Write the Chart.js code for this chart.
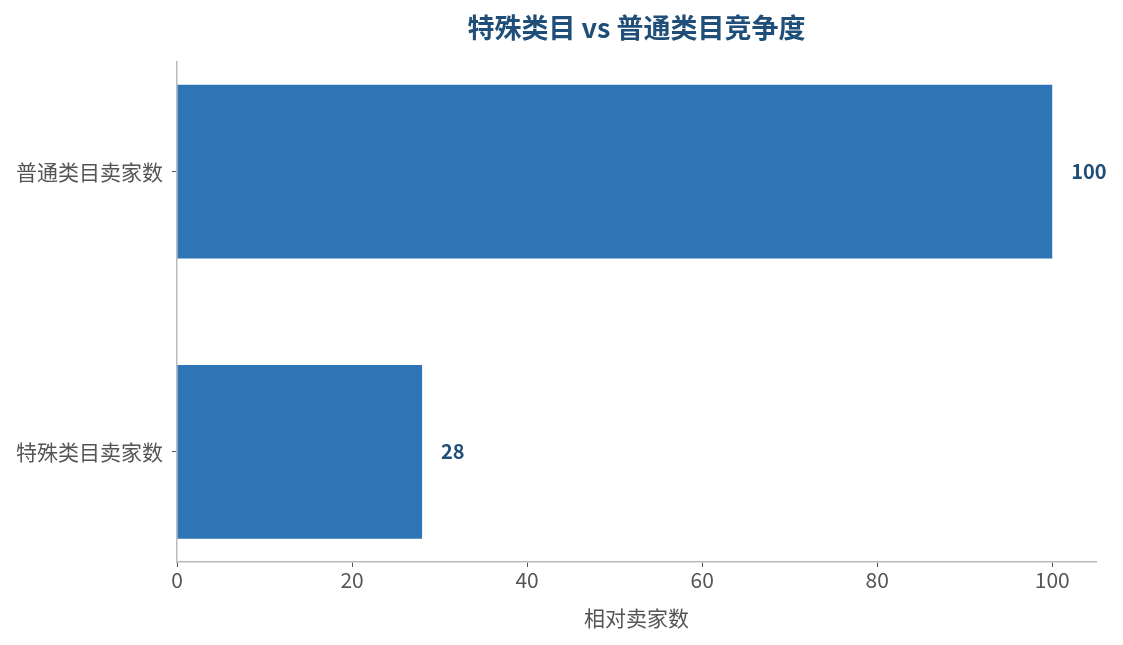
<!DOCTYPE html>
<html><head><meta charset="utf-8">
<script src="https://cdn.jsdelivr.net/npm/chart.js@4.4.1/dist/chart.umd.min.js"></script>
<style>html,body{margin:0;padding:0;background:#fff}#wrap{width:1123px;height:645px}</style>
</head><body><div id="wrap"><canvas id="c" width="1123" height="645"></canvas></div>
<script>
const categories = ['普通类目卖家数', '特殊类目卖家数'];
const values = [100, 28];
const xTicks = [0, 20, 40, 60, 80, 100];
const chartTitle = '特殊类目 vs 普通类目竞争度';
const xAxisTitle = '相对卖家数';

const FONT = '"Microsoft YaHei","Noto Sans CJK SC","Noto Sans",sans-serif';

const valueLabels = {
  id: 'valueLabels',
  afterDatasetsDraw(chart) {
    const ctx = chart.ctx;
    const meta = chart.getDatasetMeta(0);
    ctx.save();
    ctx.font = 'bold 20px ' + FONT;
    ctx.fillStyle = '#1F4E79';
    ctx.textAlign = 'left';
    ctx.textBaseline = 'middle';
    meta.data.forEach((bar, i) => {
      ctx.fillText(String(values[i]), bar.x + 19, bar.y);
    });
    ctx.restore();
  }
};

new Chart(document.getElementById('c'), {
  type: 'bar',
  data: {
    datasets: [{
      data: values.map((v, i) => ({ x: v, y: i })),
      backgroundColor: '#2E75B6',
      borderWidth: 0,
      barPercentage: 0.62,
      categoryPercentage: 1.0
    }]
  },
  options: {
    indexAxis: 'y',
    responsive: false,
    animation: false,
    layout: { padding: { left: 0, right: 27, top: 0, bottom: 0 } },
    plugins: {
      legend: { display: false },
      tooltip: { enabled: false },
      title: {
        display: true,
        fullSize: false,
        text: chartTitle,
        color: '#1F4E79',
        font: { family: FONT, size: 27, weight: 'bold' },
        padding: { top: 12, bottom: 17 }
      }
    },
    scales: {
      x: {
        type: 'linear',
        min: 0, max: 105,
        afterBuildTicks(axis) { axis.ticks = xTicks.map(v => ({ value: v })); },
        afterFit(axis) { axis.height = 83; },
        border: { color: '#bbbbbb', width: 1.5 },
        grid: { display: true, drawOnChartArea: false, drawTicks: true, tickLength: 5, color: '#555555' },
        ticks: { color: '#555555', font: { family: FONT, size: 21 }, padding: 0 },
        title: { display: true, text: xAxisTitle, color: '#555555', font: { family: FONT, size: 21 }, padding: { top: 0, bottom: 14 } }
      },
      y: {
        type: 'linear',
        reverse: true,
        offset: false,
        min: -0.393, max: 1.393,
        afterBuildTicks(axis) { axis.ticks = categories.map((c, i) => ({ value: i })); },
        afterFit(axis) { axis.width = 177; },
        border: { color: '#bbbbbb', width: 1.5 },
        grid: { display: true, offset: false, drawOnChartArea: false, drawTicks: true, tickLength: 5, color: '#555555' },
        ticks: {
          color: '#555555', font: { family: FONT, size: 21 }, padding: 9,
          callback: (v) => categories[v] !== undefined ? categories[v] : ''
        }
      }
    }
  },
  plugins: [valueLabels]
});
</script></body></html>
